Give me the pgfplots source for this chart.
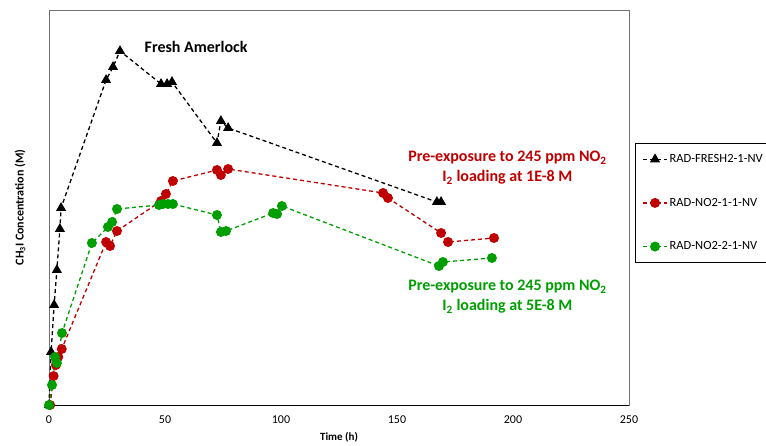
\documentclass[border=0pt]{standalone}
\usepackage{fontspec}
\setmainfont{Carlito}
\usepackage{pgfplots}
\pgfplotsset{compat=1.18}
\definecolor{myred}{RGB}{192,0,0}
\definecolor{mygreen}{RGB}{0,158,0}
\begin{document}
\begin{tikzpicture}[x=1pt,y=1pt]
\begin{axis}[
  at={(49pt,40pt)}, anchor=south west,
  scale only axis, width=580pt, height=395pt,
  xmin=0, xmax=250, ymin=0, ymax=395,
  xtick={0,50,100,150,200,250}, ytick=\empty,
  major tick length=0pt,
  axis line style={draw=black!55, line width=0.9pt},
  /pgf/number format/assume math mode=true,
  xticklabel style={font=\fontsize{12}{14}\selectfont, yshift=-7pt},
  xlabel={\textbf{Time (h)}},
  ylabel={\textbf{CH\textsubscript{3}I Concentration (M)}},
  xlabel style={font=\fontsize{11}{13}\selectfont, at={(axis description cs:0.5,-0.081)}, anchor=center},
  ylabel style={font=\fontsize{12}{14}\selectfont, at={(axis description cs:-0.05,0.5)}, anchor=center, rotate=0},
  clip=false,
  legend cell align=left,
  legend style={at={(rel axis cs:1.0103,0.663)}, anchor=north west,
    font=\fontsize{12.5}{14}\selectfont, draw=black, line width=0.8pt,
    row sep=30pt, inner ysep=9pt, inner xsep=7pt},
  legend image code/.code={
    \draw[mark repeat=2,mark phase=2,#1] plot coordinates {(0pt,0pt) (12pt,0pt) (24pt,0pt)};
  },
]
\draw[black, line width=1pt] (rel axis cs:0,0) -- (rel axis cs:1,0);
\addplot[black, line width=1.3pt, dash pattern=on 4pt off 3pt, mark=triangle*, mark size=4.6pt, mark options={solid, fill=black}] coordinates {
(0,0) (0.9,53) (2.2,100) (3.4,135) (4.7,176) (5.2,197)
(24.6,325) (27.6,338) (30.6,354) (48.3,321) (50.9,321) (53.0,323)
(72.4,262) (74.1,284) (77.2,277) (167.2,203) (169.0,203)
};
\addlegendentry{RAD-FRESH2-1-NV}
\addplot[myred, line width=1.3pt, dash pattern=on 4pt off 3pt, mark=*, mark size=4.3pt, mark options={solid, fill=myred}] coordinates {
(0.5,0) (2,29) (3,40) (4,48) (5.5,56)
(24.6,163) (26.3,159) (29.3,174) (48.3,204) (50.4,211) (53.4,224)
(72.4,235) (74.1,230) (77.2,236) (144,212) (146.1,207)
(169,172) (172,163) (191.8,167)
};
\addlegendentry{RAD-NO2-1-1-NV}
\addplot[mygreen, line width=1.3pt, dash pattern=on 4pt off 3pt, mark=*, mark size=4.3pt, mark options={solid, fill=mygreen}] coordinates {
(0,0) (1.3,20) (2.6,48) (3.4,42) (5.6,72)
(18.5,162) (25.4,178) (27.2,183) (29.3,196) (47.4,200) (49.1,201)
(51.3,201) (53.4,201) (72.4,190) (74.1,173) (76.3,174)
(96.6,192) (98.3,191) (100.4,199) (168.1,139) (169.8,143) (190.9,147)
};
\addlegendentry{RAD-NO2-2-1-NV}
\node[font=\fontsize{16}{19}\selectfont\bfseries, text=black] at (axis cs:63.4,358) {Fresh Amerlock};
\node[font=\fontsize{16}{20}\selectfont\bfseries, text=myred, align=center] at (axis cs:197.6,237) {Pre-exposure to 245 ppm NO\textsubscript{2}\\I\textsubscript{2} loading at 1E-8 M};
\node[font=\fontsize{16}{20}\selectfont\bfseries, text=mygreen, align=center] at (axis cs:197.6,108) {Pre-exposure to 245 ppm NO\textsubscript{2}\\I\textsubscript{2} loading at 5E-8 M};
\end{axis}
\pgfresetboundingbox
\path[use as bounding box] (0,0) rectangle (766,445);
\end{tikzpicture}
\end{document}
